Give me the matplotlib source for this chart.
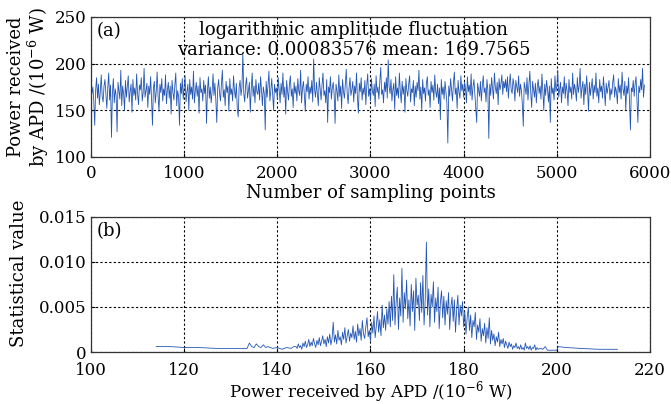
import numpy as np
import matplotlib
matplotlib.use("Agg")
import matplotlib.pyplot as plt

plt.rcParams['font.family'] = ['DejaVu Serif']
plt.rcParams['mathtext.fontset'] = 'dejavuserif'
plt.rcParams['font.size'] = 13

# (a) received power, one value read every 10 sampling points
power = [
    181, 168, 175, 160, 134, 172, 185, 163, 178, 156, 170, 188, 165, 159, 176, 183, 167, 152, 174, 190,
    161, 177, 121, 169, 184, 158, 173, 166, 127, 180, 171, 162, 193, 155, 176, 168, 150, 182, 164, 175,
    187, 159, 170, 178, 148, 183, 166, 174, 161, 189, 168, 156, 177, 172, 185, 160, 169, 195, 164, 171,
    179, 153, 176, 167, 186, 162, 134, 174, 181, 158, 170, 191, 165, 149, 178, 169, 184, 160, 173, 166,
    188, 157, 172, 180, 163, 176, 146, 182, 169, 161, 177, 190, 155, 171, 165, 134, 179, 168, 184, 162,
    174, 187, 159, 170, 178, 150, 183, 167, 175, 162, 192, 158, 171, 180, 165, 176, 147, 185, 169, 173,
    160, 182, 168, 177, 136, 171, 186, 163, 175, 158, 170, 189, 166, 179, 161, 137, 174, 183, 168, 160,
    178, 193, 164, 172, 155, 181, 169, 176, 149, 184, 167, 173, 160, 187, 171, 163, 179, 152, 143, 175,
    182, 166, 174, 211, 168, 159, 177, 185, 163, 171, 180, 148, 173, 190, 165, 176, 158, 183, 170, 167,
    179, 161, 186, 172, 155, 175, 168, 129, 181, 164, 177, 192, 160, 171, 184, 166, 150, 178, 169, 174,
    162, 185, 171, 158, 179, 167, 190, 164, 175, 146, 182, 170, 161, 178, 187, 165, 173, 153, 180, 168,
    176, 160, 184, 171, 166, 193, 158, 174, 181, 167, 149, 178, 170, 186, 162, 175, 168, 182, 159, 205,
    172, 164, 180, 168, 155, 185, 173, 161, 177, 190, 166, 171, 158, 183, 137, 175, 169, 186, 162, 174,
    180, 167, 136, 178, 171, 160, 188, 165, 176, 152, 183, 170, 163, 179, 194, 168, 157, 174, 185, 166,
    172, 181, 159, 176, 168, 190, 163, 147, 179, 170, 185, 161, 174, 167, 182, 156, 177, 189, 165, 173,
    160, 184, 171, 166, 178, 154, 187, 169, 175, 162, 181, 196, 167, 172, 158, 180, 170, 185, 163, 204,
    175, 168, 183, 160, 172, 179, 151, 186, 166, 174, 163, 190, 170, 158, 181, 167, 176, 148, 184, 171,
    165, 178, 187, 159, 173, 169, 182, 155, 176, 164, 180, 171, 193, 162, 175, 150, 183, 168, 174, 160,
    179, 186, 166, 172, 153, 181, 169, 177, 161, 188, 170, 164, 178, 157, 174, 140, 183, 167, 175, 162,
    181, 170, 158, 115, 176, 165, 184, 172, 160, 179, 191, 167, 174, 152, 182, 169, 163, 187, 171, 178,
    164, 180, 173, 158, 186, 170, 177, 166, 189, 161, 175, 183, 168, 154, 137, 179, 172, 165, 181, 160,
    176, 187, 169, 174, 159, 183, 171, 120, 178, 166, 185, 173, 162, 190, 175, 168, 180, 156, 184, 172,
    178, 188, 167, 181, 174, 183, 170, 186, 163, 179, 189, 172, 168, 184, 177, 160, 182, 175, 169, 187,
    165, 178, 171, 156, 133, 180, 174, 167, 185, 161, 176, 192, 169, 153, 181, 172, 164, 179, 158, 175,
    183, 168, 176, 162, 189, 171, 150, 178, 166, 182, 173, 159, 176, 137, 184, 168, 174, 161, 187, 170,
    176, 193, 164, 172, 180, 158, 175, 168, 186, 163, 179, 171, 155, 183, 169, 175, 162, 190, 167, 178,
    172, 160, 185, 169, 176, 195, 163, 174, 181, 156, 178, 167, 187, 171, 149, 180, 166, 175, 184, 162,
    177, 169, 190, 165, 174, 158, 183, 170, 176, 163, 186, 172, 155, 179, 168, 175, 182, 161, 173, 167,
    180, 188, 164, 175, 170, 157, 184, 169, 177, 162, 191, 173, 166, 181, 150, 176, 168, 185, 160, 129,
    174, 170, 182, 165, 178, 186, 161, 137, 176, 169, 183, 172, 195, 164, 177,
]
sample_step = 10

# (b) statistics, values in units of 1e-4
left_x = [114, 117, 120, 123, 127, 131, 133.5, 134, 134.5, 135, 135.5, 136, 136.5,
          137, 137.5, 138, 139, 140, 141, 142, 143, 143.5]
left_v = [6, 6, 5, 5, 4, 4, 4, 10, 6, 5, 9, 6, 5, 8, 5, 6, 4, 5, 3, 5, 4, 6]

mid_start, mid_step = 144.0, 0.25
mid_v = [
    6, 4, 9, 5, 7, 3, 10, 6, 12, 5, 8, 14, 6, 11, 7, 15, 9,
    5, 13, 8, 16, 7, 12, 18, 9, 14, 6, 17, 10, 20, 8, 15, 33,
    11, 19, 9, 24, 13, 17, 8, 22, 14, 27, 10, 18, 25, 12, 21, 16,
    29, 14, 23, 11, 31, 18, 26, 13, 35, 20, 15, 28, 38, 17, 24, 12,
    33, 21, 40, 16, 29, 45, 22, 36, 18, 52, 27, 41, 24, 48, 31, 56,
    28, 62, 35, 86, 30, 55, 72, 25, 60, 40, 93, 33, 66, 48, 80, 37,
    58, 29, 75, 45, 68, 24, 82, 52, 63, 35, 77, 44, 85, 30, 59, 122,
    41, 70, 28, 64, 50, 78, 33, 60, 45, 72, 26, 55, 68, 38, 62, 30,
    57, 42, 66, 25, 50, 61, 34, 58, 22, 47, 63, 30, 52, 40, 56, 28,
    45, 20, 38, 50, 24, 41, 16, 35, 28, 44, 14, 30, 22, 37, 12, 26,
    18, 32, 10, 27, 15, 38, 9, 24, 13, 20, 7, 17, 11, 22, 6, 14,
    9, 15, 5, 12, 8, 4, 11, 6, 9, 3, 7, 5, 10, 4, 6, 3,
    8, 3, 5, 2, 10, 4, 6, 3, 7, 2, 5, 4, 8, 2, 5, 3,
]

right_x = [196.5, 197, 197.5, 198, 199, 200, 200.3, 202, 205, 209, 213]
right_v = [4, 3, 6, 2, 2, 2, 6, 5, 4, 3, 3]

line_color = '#2356b4'

fig = plt.figure(figsize=(6.71, 4.04), dpi=100)
ax1 = fig.add_axes([0.1356, 0.6114, 0.8331, 0.3466])
ax2 = fig.add_axes([0.1356, 0.1287, 0.8331, 0.3342])

xa = np.arange(len(power)) * sample_step
ax1.plot(xa, power, color=line_color, lw=0.6)
ax1.set_xlim(0, 6000)
ax1.set_ylim(100, 250)
ax1.set_xticks([0, 1000, 2000, 3000, 4000, 5000, 6000])
ax1.set_yticks([100, 150, 200, 250])
ax1.set_xlabel('Number of sampling points', labelpad=1)
ax1.set_ylabel('Power received\nby APD /(10$^{-6}$ W)', linespacing=1.05)
ax1.yaxis.set_label_coords(-0.072, 0.5)
ax1.text(0.01, 0.96, '(a)', transform=ax1.transAxes, va='top', ha='left')
ax1.text(0.47, 0.97, 'logarithmic amplitude fluctuation', transform=ax1.transAxes,
         va='top', ha='center')
ax1.text(0.47, 0.83, 'variance: 0.00083576 mean: 169.7565', transform=ax1.transAxes,
         va='top', ha='center')

xb = list(left_x) + list(mid_start + np.arange(len(mid_v)) * mid_step) + list(right_x)
vb = np.array(left_v + mid_v + right_v) * 1e-4
ax2.plot(xb, vb, color=line_color, lw=0.6)
ax2.set_xlim(100, 220)
ax2.set_ylim(0, 0.015)
ax2.set_xticks([100, 120, 140, 160, 180, 200, 220])
ax2.set_yticks([0, 0.005, 0.010, 0.015])
ax2.set_yticklabels(['0', '0.005', '0.010', '0.015'])
ax2.set_xlabel('Power received by APD /(10$^{-6}$ W)', labelpad=0, fontsize=12)
ax2.set_ylabel('Statistical value')
ax2.yaxis.set_label_coords(-0.112, 0.58)
ax2.text(0.01, 0.96, '(b)', transform=ax2.transAxes, va='top', ha='left')

for ax in (ax1, ax2):
    ax.grid(True, color='black', ls=(0, (2, 2)), lw=0.8)
    ax.tick_params(direction='in', length=3, labelsize=12)
    ax.tick_params(axis='y', pad=3)
    for s in ax.spines.values():
        s.set_linewidth(0.9)
        s.set_color('#333333')
ax1.tick_params(axis='x', pad=6)
ax2.tick_params(axis='x', pad=7)

fig.savefig('out.png', dpi=100)
